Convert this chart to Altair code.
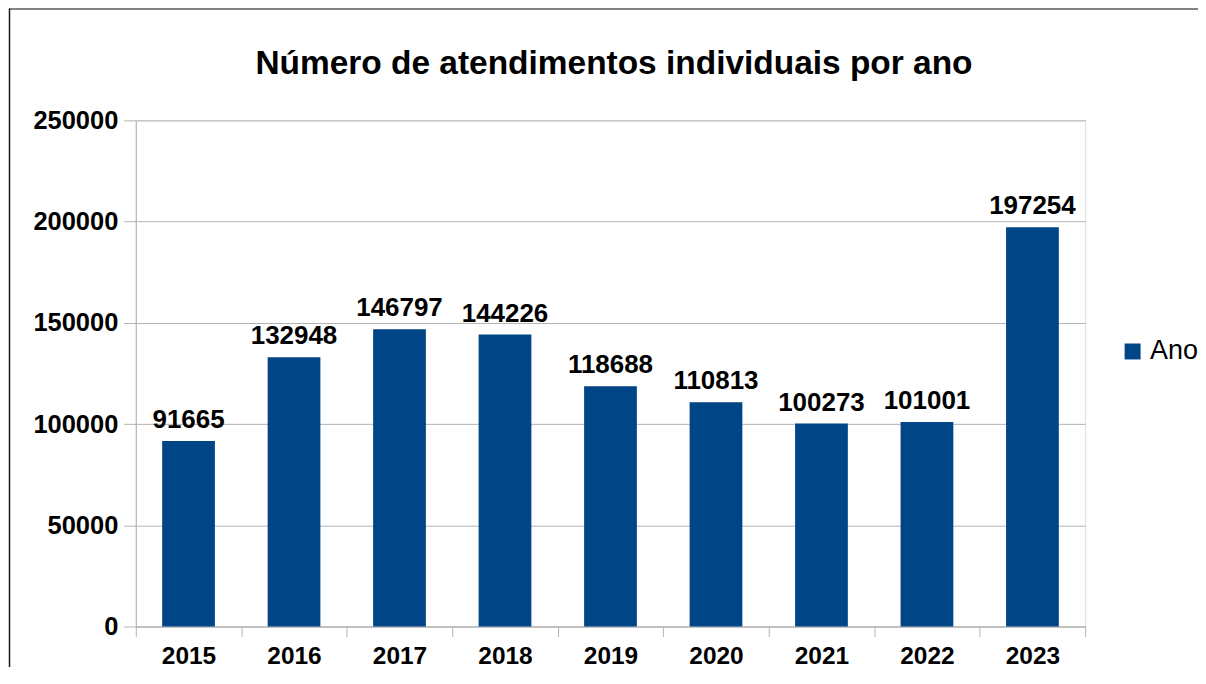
import altair as alt
import pandas as pd

years = ["2015", "2016", "2017", "2018", "2019", "2020", "2021", "2022", "2023"]
values = [91665, 132948, 146797, 144226, 118688, 110813, 100273, 101001, 197254]
series_name = "Ano"
y_ticks = [0, 50000, 100000, 150000, 200000, 250000]
title_text = "Número de atendimentos individuais por ano"

df = pd.DataFrame({"ano": years, "valor": values, "serie": [series_name] * len(years)})

FONT = "Liberation Sans"
BAR = "#004586"
GRID = "#b3b3b3"

x_enc = alt.X(
    "ano:N",
    sort=years,
    title=None,
    scale=alt.Scale(paddingInner=0, paddingOuter=0),
    axis=alt.Axis(
        tickBand="extent",
        labelAngle=0,
        labelFont=FONT,
        labelFontSize=24.5,
        labelFontWeight="bold",
        labelColor="#000000",
        tickSize=10,
        labelPadding=8,
        domainColor=GRID,
        tickColor=GRID,
        grid=False,
    ),
)
y_enc = alt.Y(
    "valor:Q",
    title=None,
    scale=alt.Scale(domain=[0, 250000], nice=False),
    axis=alt.Axis(
        values=y_ticks,
        format="d",
        labelFont=FONT,
        labelFontSize=25.5,
        labelFontWeight="bold",
        labelColor="#000000",
        tickSize=12,
        labelPadding=6,
        domainColor=GRID,
        tickColor=GRID,
        gridColor=GRID,
        grid=True,
    ),
)

bars = alt.Chart(df).mark_bar(width=alt.RelativeBandSize(0.5)).encode(
    x=x_enc,
    y=y_enc,
    color=alt.Color(
        "serie:N",
        scale=alt.Scale(range=[BAR]),
        legend=alt.Legend(
            title=None,
            orient="none",
            legendX=985,
            legendY=218,
            symbolType="square",
            symbolSize=256,
            symbolStrokeWidth=0,
            labelFont=FONT,
            labelFontSize=27,
            labelColor="#000000",
            labelOffset=4,
            padding=0,
        ),
    ),
)

labels = alt.Chart(df).mark_text(
    dy=-13, baseline="alphabetic", font=FONT, fontSize=26, fontWeight="bold", color="#000000"
).encode(x=alt.X("ano:N", sort=years), y="valor:Q", text=alt.Text("valor:Q", format="d"))

frame = pd.DataFrame({"k": [0]})
title_mark = alt.Chart(pd.DataFrame({"t": [title_text]})).mark_text(
    font=FONT, fontSize=33.5, fontWeight="bold", color="#000000", align="center", baseline="alphabetic"
).encode(x=alt.value(479), y=alt.value(-46), text="t:N")

top_line = alt.Chart(frame).mark_rule(color="#5a5a5a", strokeWidth=1.5).encode(
    x=alt.value(-127), x2=alt.value(1070), y=alt.value(-111.5)
)
left_line = alt.Chart(frame).mark_rule(color="#1a1a1a", strokeWidth=1.5).encode(
    x=alt.value(-126.5), y=alt.value(-112), y2=alt.value(600)
)

chart = (
    alt.layer(bars, labels, title_mark, top_line, left_line)
    .properties(
        width=951,
        height=507,
        autosize=alt.AutoSizeParams(type="none"),
        padding={"left": 128, "top": 112, "right": 113, "bottom": 40},
    )
    .configure_view(stroke=GRID, strokeWidth=1)
    .configure(background="#ffffff")
)

chart.save("out.html", embed_options={"renderer": "svg", "actions": False})
